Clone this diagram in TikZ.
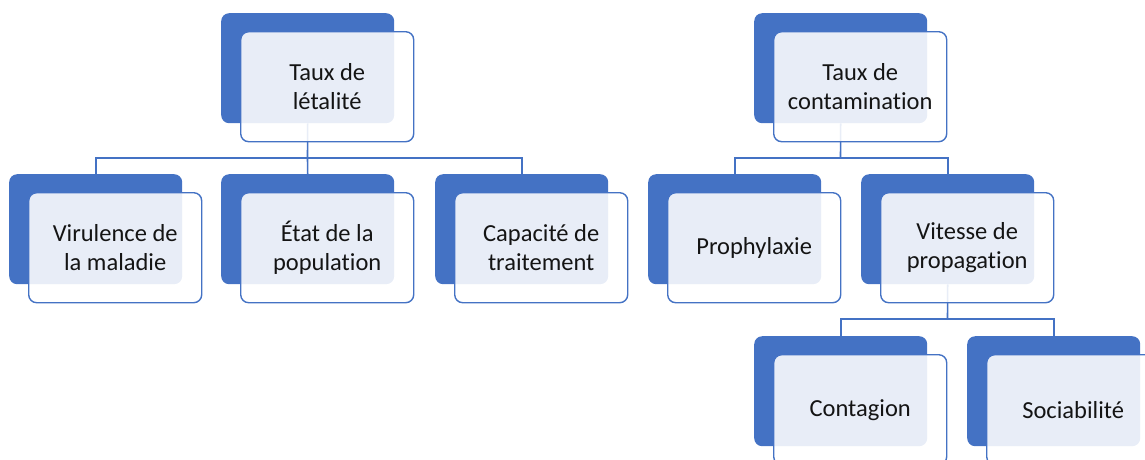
\documentclass[tikz,border=0pt]{standalone}
\usepackage{fontspec}
\setmainfont{Carlito}[Ligatures=NoCommon]
\definecolor{sablue}{HTML}{4472C4}
\definecolor{txt}{HTML}{141414}
\begin{document}
\begin{tikzpicture}[x=1pt,y=-1pt,
  back/.style={rectangle,rounded corners=8pt,fill=sablue,draw=none,minimum width=173pt,minimum height=110pt,inner sep=0pt,anchor=north west},
  front/.style={rectangle,rounded corners=8pt,fill=white,fill opacity=0.88,text opacity=1,draw=sablue,draw opacity=1,line width=1.4pt,minimum width=173pt,minimum height=110pt,inner sep=0pt,anchor=north west,align=center,text=txt,font=\fontsize{24.5}{29.5}\selectfont},
  conn/.style={draw=sablue,line width=1.6pt}]
\useasboundingbox (0,0) rectangle (1145,459);
% junction points of the connectors
\coordinate (ja) at (307.5,158);
\coordinate (jc) at (840.5,158);
\coordinate (jd) at (947.5,319);
% back boxes
\node[back] (bA) at (221,13) {};
\node[back] (bB1) at (9,174) {};
\node[back] (bB2) at (221,174) {};
\node[back] (bB3) at (435,174) {};
\node[back] (bC) at (754,13) {};
\node[back] (bD1) at (648,174) {};
\node[back] (bD2) at (861,174) {};
\node[back] (bE1) at (754,336) {};
\node[back] (bE2) at (967,336) {};
% connectors
\draw[conn] (bA.south) -- (ja);
\draw[conn] (bB1.north) |- (ja) -| (bB3.north);
\draw[conn] (ja) -- (bB2.north);
\draw[conn] (bC.south) -- (jc);
\draw[conn] (bD1.north) |- (jc) -| (bD2.north);
\draw[conn] (bD2.south) -- (jd);
\draw[conn] (bE1.north) |- (jd) -| (bE2.north);
% front boxes
\node[front] (fA) at (240,31) {Taux de\\létalité};
\node[front] (fB1) at (28,192) {Virulence de\\la maladie};
\node[front] (fB2) at (240,192) {État de la\\population};
\node[front] (fB3) at (454,192) {Capacité de\\traitement};
\node[front] (fC) at (773,31) {Taux de\\contamination};
\node[front] (fD1) at (667,192) {Prophylaxie};
\node[front] (fD2) at (880,192) {Vitesse de\\propagation};
\node[front] (fE1) at (773,354) {Contagion};
\node[front] (fE2) at (986,354) {Sociabilité};
\end{tikzpicture}
\end{document}
